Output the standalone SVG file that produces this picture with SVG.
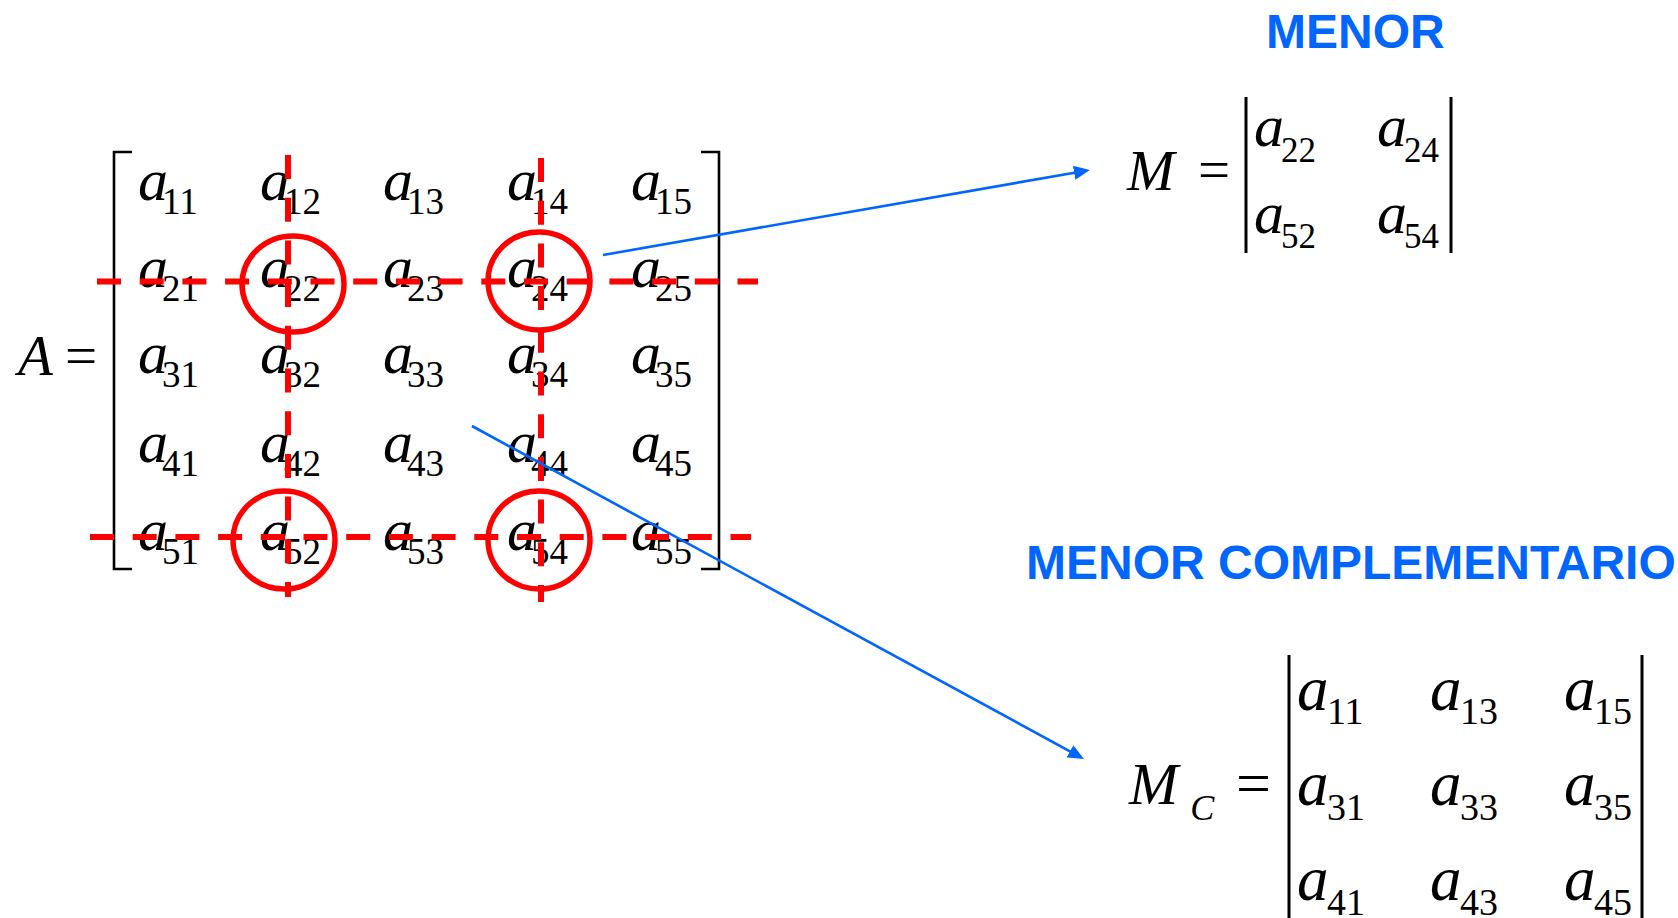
<svg xmlns="http://www.w3.org/2000/svg" width="1678" height="918" viewBox="0 0 1678 918">
<style>
.a{font-family:"Liberation Serif","Times New Roman",serif;font-style:italic;font-size:60px;fill:#000}
.s{font-family:"Liberation Serif","Times New Roman",serif;font-style:normal;font-size:37px;fill:#000}
.op{font-family:"Liberation Serif","Times New Roman",serif;font-size:57px;fill:#000}
.m .s{font-size:35px}
.mc .a{font-size:63px}
.mc .s{font-size:38px}
.lbl{font-family:"Liberation Sans",Arial,sans-serif;font-weight:bold;font-size:48px;fill:#0066ff}
.br{stroke:#000;stroke-width:2.6;fill:none}
.bar{stroke:#000;stroke-width:3;fill:none}
.dash{stroke:#ff0000;stroke-width:6;stroke-dasharray:24 18.7;fill:none}
.ring{stroke:#ff0000;stroke-width:5.5;fill:none}
.conn{stroke:#0066ff;stroke-width:2.6;fill:none}
</style>
<defs>
<marker id="arr" viewBox="0 0 16 14" refX="12" refY="7" markerWidth="16" markerHeight="14" markerUnits="userSpaceOnUse" orient="auto">
<path d="M0,0 L16,7 L0,14 z" fill="#0066ff"/>
</marker>
</defs>
<rect width="1678" height="918" fill="#fff"/>

<g id="matrix-A">
<text class="a" x="18" y="375" style="font-size:57px">A</text>
<text class="op" x="65" y="375">=</text>
<path class="br" d="M132 152 H114 V569 H132"/>
<path class="br" d="M701 152 H719 V569 H701"/>
<text class="a" x="138" y="200">a<tspan class="s" dx="-6" dy="14">11</tspan></text>
<text class="a" x="260" y="200">a<tspan class="s" dx="-6" dy="14">12</tspan></text>
<text class="a" x="383" y="200">a<tspan class="s" dx="-6" dy="14">13</tspan></text>
<text class="a" x="507" y="200">a<tspan class="s" dx="-6" dy="14">14</tspan></text>
<text class="a" x="631" y="200">a<tspan class="s" dx="-6" dy="14">15</tspan></text>
<text class="a" x="138" y="287">a<tspan class="s" dx="-6" dy="14">21</tspan></text>
<text class="a" x="260" y="287">a<tspan class="s" dx="-6" dy="14">22</tspan></text>
<text class="a" x="383" y="287">a<tspan class="s" dx="-6" dy="14">23</tspan></text>
<text class="a" x="507" y="287">a<tspan class="s" dx="-6" dy="14">24</tspan></text>
<text class="a" x="631" y="287">a<tspan class="s" dx="-6" dy="14">25</tspan></text>
<text class="a" x="138" y="373">a<tspan class="s" dx="-6" dy="14">31</tspan></text>
<text class="a" x="260" y="373">a<tspan class="s" dx="-6" dy="14">32</tspan></text>
<text class="a" x="383" y="373">a<tspan class="s" dx="-6" dy="14">33</tspan></text>
<text class="a" x="507" y="373">a<tspan class="s" dx="-6" dy="14">34</tspan></text>
<text class="a" x="631" y="373">a<tspan class="s" dx="-6" dy="14">35</tspan></text>
<text class="a" x="138" y="462">a<tspan class="s" dx="-6" dy="14">41</tspan></text>
<text class="a" x="260" y="462">a<tspan class="s" dx="-6" dy="14">42</tspan></text>
<text class="a" x="383" y="462">a<tspan class="s" dx="-6" dy="14">43</tspan></text>
<text class="a" x="507" y="462">a<tspan class="s" dx="-6" dy="14">44</tspan></text>
<text class="a" x="631" y="462">a<tspan class="s" dx="-6" dy="14">45</tspan></text>
<text class="a" x="138" y="550">a<tspan class="s" dx="-6" dy="14">51</tspan></text>
<text class="a" x="260" y="550">a<tspan class="s" dx="-6" dy="14">52</tspan></text>
<text class="a" x="383" y="550">a<tspan class="s" dx="-6" dy="14">53</tspan></text>
<text class="a" x="507" y="550">a<tspan class="s" dx="-6" dy="14">54</tspan></text>
<text class="a" x="631" y="550">a<tspan class="s" dx="-6" dy="14">55</tspan></text>
</g>

<g id="selection">
<path class="dash" d="M97 281.5 H758"/>
<path class="dash" d="M90 537 H751"/>
<path class="dash" d="M288 155 V597"/>
<path class="dash" d="M541 158 V602"/>
<ellipse class="ring" cx="293" cy="284" rx="51" ry="48"/>
<ellipse class="ring" cx="539" cy="281" rx="51" ry="49"/>
<ellipse class="ring" cx="284" cy="540" rx="51" ry="49"/>
<ellipse class="ring" cx="539" cy="540" rx="51" ry="49"/>
</g>

<g id="label-menor">
<text class="lbl" x="1266" y="48">MENOR</text>
</g>

<g id="minor-M" class="m">
<text class="a" x="1127" y="190" style="font-size:57px">M</text>
<text class="op" x="1198" y="189">=</text>
<line class="bar" x1="1246" y1="97" x2="1246" y2="253"/>
<line class="bar" x1="1451" y1="97" x2="1451" y2="253"/>
<text class="a" x="1254" y="146">a<tspan class="s" dx="-3" dy="16">22</tspan></text>
<text class="a" x="1377" y="146">a<tspan class="s" dx="-3" dy="16">24</tspan></text>
<text class="a" x="1254" y="233">a<tspan class="s" dx="-3" dy="15">52</tspan></text>
<text class="a" x="1377" y="233">a<tspan class="s" dx="-3" dy="15">54</tspan></text>
</g>

<g id="label-menor-complementario">
<text class="lbl" x="1026" y="579">MENOR COMPLEMENTARIO</text>
</g>

<g id="minor-MC" class="mc">
<text class="a" x="1129" y="804" style="font-size:59px">M<tspan dx="12" dy="16" style="font-size:36px">C</tspan></text>
<text class="op" x="1236" y="804" style="font-size:62px">=</text>
<line class="bar" x1="1289" y1="655" x2="1289" y2="918"/>
<line class="bar" x1="1642" y1="655" x2="1642" y2="918"/>
<text class="a" x="1297" y="710">a<tspan class="s" dx="-1.5" dy="14">11</tspan></text>
<text class="a" x="1430" y="710">a<tspan class="s" dx="-1.5" dy="14">13</tspan></text>
<text class="a" x="1564" y="710">a<tspan class="s" dx="-1.5" dy="14">15</tspan></text>
<text class="a" x="1297" y="805">a<tspan class="s" dx="-1.5" dy="15">31</tspan></text>
<text class="a" x="1430" y="805">a<tspan class="s" dx="-1.5" dy="15">33</tspan></text>
<text class="a" x="1564" y="805">a<tspan class="s" dx="-1.5" dy="15">35</tspan></text>
<text class="a" x="1297" y="900">a<tspan class="s" dx="-1.5" dy="15">41</tspan></text>
<text class="a" x="1430" y="900">a<tspan class="s" dx="-1.5" dy="15">43</tspan></text>
<text class="a" x="1564" y="900">a<tspan class="s" dx="-1.5" dy="15">45</tspan></text>
</g>

<g id="connectors">
<line class="conn" x1="603" y1="255" x2="1086" y2="170.7" marker-end="url(#arr)"/>
<line class="conn" x1="472" y1="426" x2="1080.5" y2="757.1" marker-end="url(#arr)"/>
</g>
</svg>
